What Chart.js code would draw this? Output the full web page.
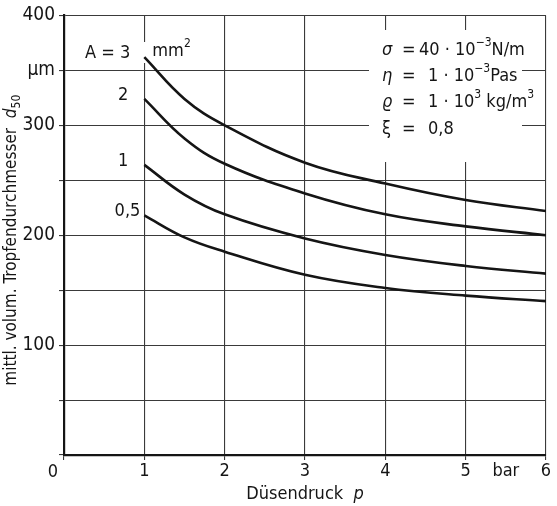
<!DOCTYPE html>
<html>
<head>
<meta charset="utf-8">
<script src="https://cdn.jsdelivr.net/npm/chart.js@4.4.1/dist/chart.umd.min.js"></script>
<style>
  body { margin: 0; background: #fff; }
  #wrap { width: 557px; height: 506px; }
</style>
</head>
<body>
<div id="wrap"><canvas id="chart"></canvas></div>
<script>
// nozzle pressure p (bar) and median drop diameter d50 (µm) per nozzle area A
var pressure = [1, 1.5, 2, 3, 4, 5, 6];
var areaNames = ['3', '2', '1', '0,5'];
var d50A3 = [362, 324, 300, 266, 247, 232, 222];
var d50A2 = [324, 288, 265, 238, 219, 208, 200];
var d50A1 = [264, 237, 219, 197, 182, 172, 165];
var d50A05 = [218, 198, 185, 164, 152, 145, 140];

var xTickValues = [0, 1, 2, 3, 4, 5, 5.5, 6];
var xTickLabels = ['0', '1', '2', '3', '4', '5', 'bar', '6'];
var yTickValues = [0, 50, 100, 150, 200, 250, 300, 350, 400];
var yTickLabels = ['', '', '100', '', '200', '', '300', 'µm', '400'];

var FONT = '"Liberation Sans Narrow", "DejaVu Sans Condensed", "Liberation Sans", sans-serif';
var INK = '#151515';
var GRID = '#3a3a3a';

function makeSet(values) {
  return {
    data: pressure.map(function (p, i) { return { x: p, y: values[i] }; }),
    borderColor: INK,
    borderWidth: 2.6,
    pointRadius: 0,
    fill: false,
    tension: 0.4
  };
}

// rich text: segs = [[text, style]], style '' | 'i' | 'sup' | 'sub'
function segFont(style, size) {
  var s = (style === 'sup' || style === 'sub') ? Math.round(size * 0.68) : size;
  return (style === 'i' ? 'italic ' : '') + s + 'px ' + FONT;
}
function richWidth(ctx, segs, size) {
  var w = 0;
  segs.forEach(function (s) { ctx.font = segFont(s[1], size); w += ctx.measureText(s[0]).width; });
  return w;
}
function drawRich(ctx, x, y, segs, size, align) {
  var w = richWidth(ctx, segs, size);
  if (align === 'center') x -= w / 2;
  if (align === 'right') x -= w;
  ctx.textBaseline = 'middle';
  ctx.textAlign = 'left';
  segs.forEach(function (s) {
    ctx.font = segFont(s[1], size);
    var dy = s[1] === 'sup' ? -size * 0.38 : (s[1] === 'sub' ? size * 0.28 : 0);
    ctx.fillText(s[0], x, y + dy);
    x += ctx.measureText(s[0]).width;
  });
}

var annotate = {
  id: 'annotate',
  beforeDatasetsDraw: function (chart) {
    var ctx = chart.ctx, xs = chart.scales.x, ys = chart.scales.y;
    var x1 = xs.getPixelForValue(1);
    ctx.save();
    // white patches where the printed labels interrupt the grid
    ctx.fillStyle = '#fff';
    ctx.fillRect(369, 30, 153, 132);
    ctx.fillRect(x1 - 3, 42, 6, 21);
    ctx.fillStyle = INK;

    // parameter block
    var rows = [
      [['σ', 'i']], [['η', 'i']], [['ϱ', 'i']], [['ξ', '']]
    ];
    var vals = [
      [['40 · 10', ''], ['−3', 'sup'], ['N/m', '']],
      [['1 · 10', ''], ['−3', 'sup'], ['Pas', '']],
      [['1 · 10', ''], ['3', 'sup'], [' kg/m', ''], ['3', 'sup']],
      [['0,8', '']]
    ];
    var rowY = [50, 76, 102, 129];
    var valX = [419, 428, 428, 428];
    for (var i = 0; i < rows.length; i++) {
      drawRich(ctx, 382, rowY[i], rows[i], 18, 'left');
      drawRich(ctx, 402, rowY[i], [['=', '']], 18, 'left');
      drawRich(ctx, valX[i], rowY[i], vals[i], 18, 'left');
    }

    // curve labels
    var series = [d50A3, d50A2, d50A1, d50A05];
    var dx = [14, 16, 16, 4];
    for (var k = 0; k < series.length; k++) {
      var y = ys.getPixelForValue(series[k][0]) - 4;
      var txt = k === 0 ? 'A = ' + areaNames[k] : areaNames[k];
      drawRich(ctx, x1 - dx[k], y, [[txt, '']], 18, 'right');
    }
    drawRich(ctx, x1 + 8, ys.getPixelForValue(d50A3[0]) - 6, [['mm', ''], ['2', 'sup']], 18, 'left');
    ctx.restore();
  },
  afterDraw: function (chart) {
    var ctx = chart.ctx, area = chart.chartArea;
    ctx.save();
    ctx.fillStyle = INK;
    // origin label sits left of the axis
    drawRich(ctx, area.left - 11, area.bottom + 17, [[xTickLabels[0], '']], 18, 'center');
    // x title
    drawRich(ctx, (area.left + area.right) / 2, 494, [['Düsendruck  ', ''], ['p', 'i']], 18, 'center');
    // y title
    ctx.translate(12, (area.top + area.bottom) / 2 + 5);
    ctx.rotate(-Math.PI / 2);
    drawRich(ctx, 0, 0, [['mittl. volum. Tropfendurchmesser  ', ''], ['d', 'i'], ['50', 'sub']], 17, 'center');
    ctx.restore();
  }
};

new Chart(document.getElementById('chart'), {
  type: 'line',
  data: { datasets: [makeSet(d50A3), makeSet(d50A2), makeSet(d50A1), makeSet(d50A05)] },
  plugins: [annotate],
  options: {
    responsive: true,
    maintainAspectRatio: false,
    animation: false,
    layout: { padding: { top: 14, right: 11, left: 0, bottom: 0 } },
    plugins: { legend: { display: false }, tooltip: { enabled: false } },
    scales: {
      x: {
        type: 'linear',
        min: 0,
        max: 6,
        afterBuildTicks: function (scale) {
          scale.ticks = xTickValues.map(function (v) { return { value: v }; });
        },
        afterFit: function (scale) { scale.height = 51; },
        ticks: {
          autoSkip: false,
          maxRotation: 0,
          padding: 1,
          color: INK,
          font: { family: FONT, size: 18 },
          callback: function (v) {
            var i = xTickValues.indexOf(v);
            return i > 0 ? xTickLabels[i] : '';
          }
        },
        grid: {
          color: function (c) { return c.tick && c.tick.value === 5.5 ? 'rgba(0,0,0,0)' : GRID; },
          lineWidth: 1.1,
          tickLength: 5
        },
        border: { color: INK, width: 2.2 }
      },
      y: {
        min: 0,
        max: 400,
        afterBuildTicks: function (scale) {
          scale.ticks = yTickValues.map(function (v) { return { value: v }; });
        },
        afterFit: function (scale) { scale.width = 64; },
        ticks: {
          autoSkip: false,
          padding: 4,
          color: INK,
          font: { family: FONT, size: 19 },
          callback: function (v) {
            var i = yTickValues.indexOf(v);
            return i >= 0 ? yTickLabels[i] : '';
          }
        },
        grid: { color: GRID, lineWidth: 1.1, tickLength: 5 },
        border: { color: INK, width: 2.2 }
      }
    }
  }
});
</script>
</body>
</html>
